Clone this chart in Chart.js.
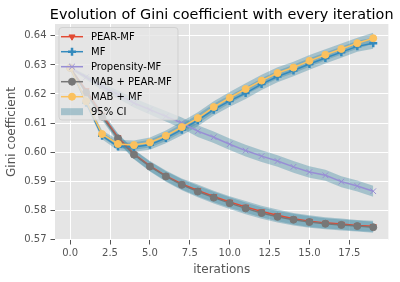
<!DOCTYPE html>
<html>
<head>
<meta charset="utf-8">
<script src="https://cdn.jsdelivr.net/npm/chart.js@4.4.1/dist/chart.umd.min.js"></script>
<style>
  html, body { margin: 0; padding: 0; background: #fff; }
  #wrap { width: 400px; height: 282px; }
</style>
</head>
<body>
<div id="wrap"><canvas id="giniChart" width="400" height="282"></canvas></div>
<script>
// ---- DATA ----
const iterations = [0, 1, 2, 3, 4, 5, 6, 7, 8, 9, 10, 11, 12, 13, 14, 15, 16, 17, 18, 19];
const pearMF      = [0.6290, 0.6212, 0.6128, 0.6050, 0.5993, 0.5952, 0.5918, 0.5890, 0.5868, 0.5847, 0.5828, 0.5811, 0.5795, 0.5782, 0.5770, 0.5762, 0.5756, 0.5752, 0.5747, 0.5744];
const mf          = [0.6290, 0.6170, 0.6056, 0.6019, 0.6017, 0.6025, 0.6048, 0.6077, 0.6109, 0.6146, 0.6176, 0.6203, 0.6234, 0.6260, 0.6281, 0.6303, 0.6324, 0.6344, 0.6364, 0.6375];
const propensityMF= [0.6290, 0.6258, 0.6226, 0.6198, 0.6169, 0.6146, 0.6123, 0.6100, 0.6072, 0.6051, 0.6027, 0.6005, 0.5986, 0.5969, 0.5949, 0.5931, 0.5920, 0.5898, 0.5883, 0.5865];
const mabPearMF   = [0.6290, 0.6205, 0.6122, 0.6047, 0.5991, 0.5950, 0.5916, 0.5887, 0.5864, 0.5843, 0.5824, 0.5806, 0.5790, 0.5777, 0.5767, 0.5759, 0.5753, 0.5749, 0.5745, 0.5741];
const mabMF       = [0.6290, 0.6175, 0.6062, 0.6028, 0.6024, 0.6033, 0.6056, 0.6086, 0.6117, 0.6155, 0.6187, 0.6217, 0.6246, 0.6272, 0.6291, 0.6314, 0.6335, 0.6355, 0.6375, 0.6392];
// half width of the 95% CI band
const ciHalf      = [0.0004, 0.0008, 0.0012, 0.0014, 0.0016, 0.0017, 0.0018, 0.0019, 0.0020, 0.0020, 0.0020, 0.0020, 0.0020, 0.0020, 0.0020, 0.0020, 0.0019, 0.0019, 0.0019, 0.0019];
const xTicks = [0, 2.5, 5, 7.5, 10, 12.5, 15, 17.5];
const yTicks = [0.57, 0.58, 0.59, 0.60, 0.61, 0.62, 0.63, 0.64];

const FONT = "'DejaVu Sans', 'Liberation Sans', sans-serif";
const BAND = 'rgba(70,140,165,0.4)';

const series = [
  { label: 'PEAR-MF', data: pearMF, color: '#E24A33', style: 'triangle', rot: 180, r: 3.5, bw: 1, order: 5 },
  { label: 'MF', data: mf, color: '#348ABD', style: 'cross', rot: 0, r: 4, bw: 2.5, order: 4 },
  { label: 'Propensity-MF', data: propensityMF, color: '#988ED5', style: 'crossRot', rot: 0, r: 4, bw: 1, order: 3 },
  { label: 'MAB + PEAR-MF', data: mabPearMF, color: '#777777', style: 'circle', rot: 0, r: 3.5, bw: 1, order: 2 },
  { label: 'MAB + MF', data: mabMF, color: '#FBC15E', style: 'circle', rot: 0, r: 3.5, bw: 1, order: 1 }
];

const pts = arr => iterations.map((x, i) => ({ x, y: arr[i] }));

// ---- DATASETS ----
const datasets = [];
series.forEach(s => {
  datasets.push({
    label: s.label,
    data: pts(s.data),
    borderColor: s.color,
    backgroundColor: s.color,
    borderWidth: 1.5,
    pointStyle: s.style,
    pointRotation: s.rot,
    pointRadius: s.r,
    pointBorderWidth: s.bw,
    pointHoverRadius: s.r,
    tension: 0,
    fill: false,
    order: s.order
  });
});
series.forEach((s, k) => {
  datasets.push({
    label: '_lo' + k,
    data: pts(s.data.map((v, i) => v - ciHalf[i])),
    borderWidth: 0, pointRadius: 0, fill: false, order: 20
  });
  datasets.push({
    label: '_hi' + k,
    data: pts(s.data.map((v, i) => v + ciHalf[i])),
    borderWidth: 0, pointRadius: 0, backgroundColor: BAND, fill: '-1', order: 20
  });
});

// ---- PLUGINS ----
const plotBg = {
  id: 'plotBg',
  beforeDraw(chart) {
    const { ctx, chartArea: a } = chart;
    ctx.save();
    ctx.fillStyle = '#E5E5E5';
    ctx.fillRect(a.left, a.top, a.right - a.left, a.bottom - a.top);
    ctx.restore();
  }
};

const titleAndLegend = {
  id: 'titleAndLegend',
  afterDraw(chart) {
    const { ctx, chartArea: a } = chart;
    ctx.save();
    // title
    ctx.fillStyle = '#000';
    ctx.font = '14.4px ' + FONT;
    ctx.textAlign = 'center';
    ctx.textBaseline = 'alphabetic';
    ctx.fillText('Evolution of Gini coefficient with every iteration', (a.left + a.right) / 2, 19);

    // legend box
    const bx = 59, by = 27.5, bw = 119, bh = 92.5;
    ctx.beginPath();
    ctx.roundRect(bx, by, bw, bh, 3);
    ctx.fillStyle = 'rgba(229,229,229,0.8)';
    ctx.fill();
    ctx.strokeStyle = 'rgba(204,204,204,0.8)';
    ctx.lineWidth = 1;
    ctx.stroke();

    ctx.font = '10px ' + FONT;
    ctx.textAlign = 'left';
    ctx.textBaseline = 'middle';
    series.forEach((s, i) => {
      const y = 36.7 + i * 15;
      ctx.strokeStyle = s.color;
      ctx.lineWidth = 1.5;
      ctx.beginPath();
      ctx.moveTo(61, y);
      ctx.lineTo(83, y);
      ctx.stroke();
      ctx.fillStyle = s.color;
      ctx.lineWidth = s.bw;
      Chart.helpers.drawPoint(ctx, { pointStyle: s.style, radius: s.r, rotation: s.rot, borderWidth: s.bw }, 72, y);
      ctx.fillStyle = '#000';
      ctx.fillText(s.label, 91, y + 0.5);
    });
    const yc = 36.7 + 5 * 15;
    ctx.fillStyle = BAND;
    ctx.fillRect(61, yc - 3.5, 22, 7);
    ctx.fillStyle = '#000';
    ctx.fillText('95% CI', 91, yc + 0.5);
    ctx.restore();
  }
};

// ---- CHART ----
Chart.defaults.font.family = FONT;
Chart.defaults.font.size = 10;

new Chart(document.getElementById('giniChart'), {
  type: 'line',
  data: { datasets },
  options: {
    responsive: false,
    animation: false,
    devicePixelRatio: 1,
    layout: { padding: { left: 5, right: 11.6, top: 24, bottom: 5 } },
    plugins: { legend: { display: false }, tooltip: { enabled: false }, title: { display: false } },
    scales: {
      x: {
        type: 'linear',
        min: -0.95,
        max: 19.95,
        afterBuildTicks: scale => { scale.ticks = xTicks.map(v => ({ value: v })); },
        afterFit: scale => { scale.height = 37; },
        ticks: { color: '#555555', padding: 3, maxRotation: 0, callback: v => Number(v).toFixed(1) },
        grid: { color: '#FFFFFF', lineWidth: 1, tickColor: '#555555', tickLength: 4.5, drawTicks: true },
        border: { display: false },
        title: { display: true, text: 'iterations', color: '#555555', font: { size: 12 }, padding: 0 }
      },
      y: {
        type: 'linear',
        min: 0.5697,
        max: 0.6441,
        afterBuildTicks: scale => { scale.ticks = yTicks.map(v => ({ value: v })); },
        afterFit: scale => { scale.width = 50; },
        ticks: { color: '#555555', padding: 4, callback: v => Number(v).toFixed(2) },
        grid: { color: '#FFFFFF', lineWidth: 1, tickColor: '#555555', tickLength: 4.5, drawTicks: true },
        border: { display: false },
        title: { display: true, text: 'Gini coefficient', color: '#555555', font: { size: 12 }, padding: 0 }
      }
    }
  },
  plugins: [plotBg, titleAndLegend]
});
</script>
</body>
</html>
